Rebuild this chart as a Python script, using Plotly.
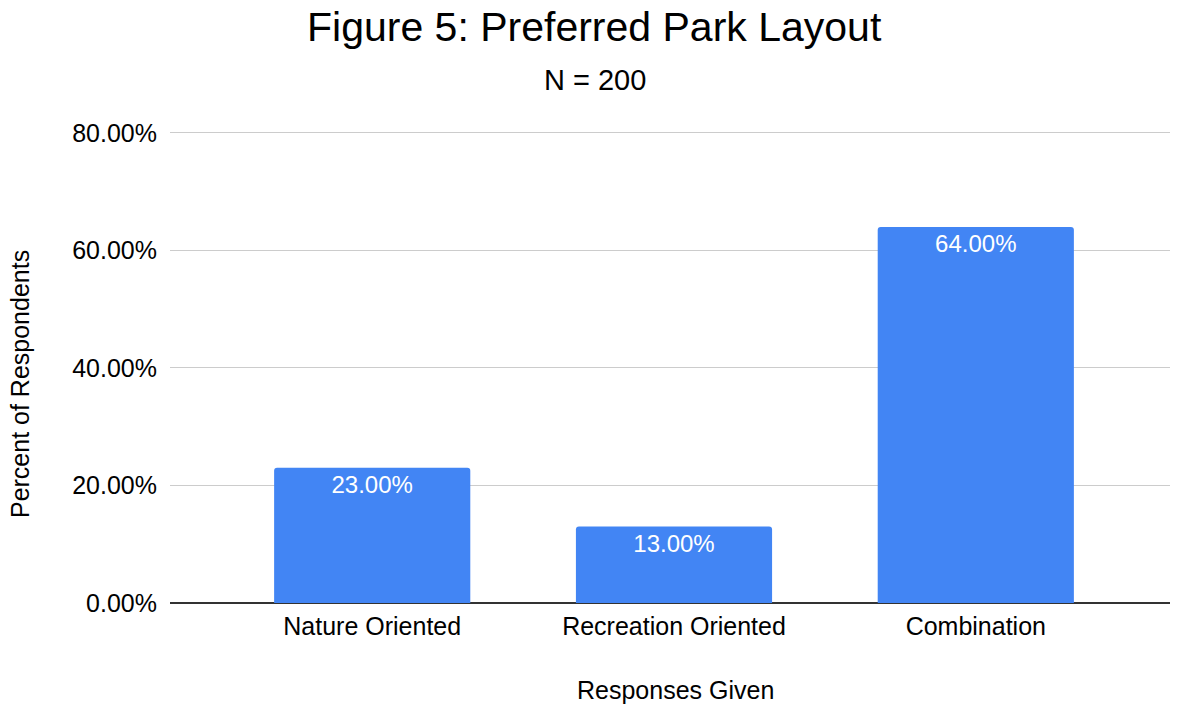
import plotly.graph_objects as go

BAR = "#4285F4"
FONT = "Liberation Sans, Arial, sans-serif"

categories = ["Nature Oriented", "Recreation Oriented", "Combination"]
shares = [0.23, 0.13, 0.64]
y_ticks = [0, 0.2, 0.4, 0.6, 0.8]

fig = go.Figure(go.Bar(
    x=categories, y=shares, width=0.65,
    marker=dict(color=BAR, line=dict(width=0)),
    text=[f"{v:.2%}" for v in shares], textposition="inside",
    insidetextanchor="end", textfont=dict(color="white", size=24, family=FONT),
))

fig.update_layout(
    width=1170, height=699,
    paper_bgcolor="white", plot_bgcolor="white",
    font=dict(family=FONT, color="#222", size=25),
    margin=dict(l=162, r=0, t=119, b=104),
    showlegend=False, barcornerradius=3,
)

# titles placed by hand so nothing gets clipped at the top edge
fig.add_annotation(text="Figure 5: Preferred Park Layout", xref="paper", yref="paper",
                   x=0.4216, y=1.0, yshift=100, showarrow=False,
                   font=dict(size=41, color="#000"), xanchor="center", yanchor="middle")
fig.add_annotation(text="N = 200", xref="paper", yref="paper",
                   x=0.4216, y=1.0, yshift=47, showarrow=False,
                   font=dict(size=29, color="#000"), xanchor="center", yanchor="middle")
fig.add_annotation(text="Responses Given", xref="paper", yref="paper",
                   x=0.501, y=0, yshift=-87, showarrow=False,
                   font=dict(size=25, color="#000"), xanchor="center", yanchor="middle")
fig.add_annotation(text="Percent of Respondents", xref="paper", yref="paper",
                   x=0, xshift=-150, y=0.46, showarrow=False, textangle=-90,
                   font=dict(size=25, color="#000"), xanchor="center", yanchor="middle")

fig.update_xaxes(
    range=[-0.67, 2.67], showgrid=False, showline=False, ticks="",
    tickfont=dict(size=25, color="#000"), ticklabelstandoff=6,
)
fig.update_yaxes(
    range=[0, 0.81], tickvals=y_ticks, tickformat=".2%",
    showgrid=True, gridcolor="#cccccc", gridwidth=1,
    zeroline=True, zerolinecolor="#333333", zerolinewidth=2,
    tickfont=dict(size=25, color="#000"), ticklabelstandoff=12,
)

fig.write_html("out.html")
